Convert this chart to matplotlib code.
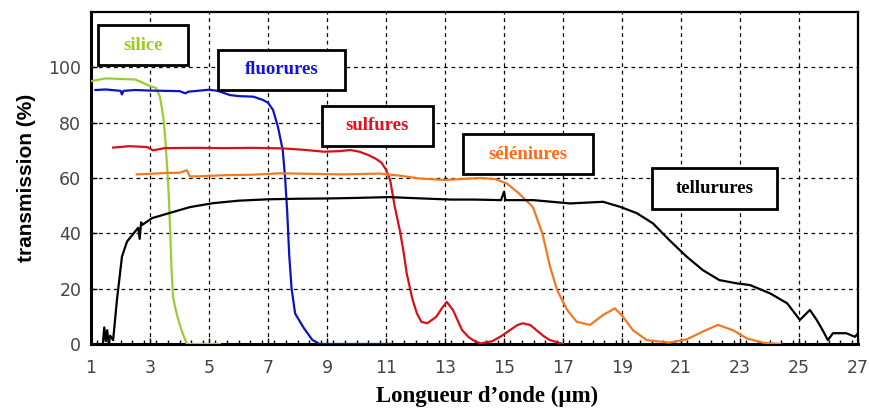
import matplotlib
matplotlib.use("Agg")
import matplotlib.pyplot as plt
from matplotlib.patches import Rectangle
from matplotlib.ticker import MultipleLocator

# ---- data ----
silice_x = [1.0, 1.5, 2.0, 2.5, 2.8, 3.0, 3.2, 3.34, 3.45, 3.52, 3.58, 3.63, 3.68, 3.73, 3.78, 3.88, 3.98, 4.1, 4.25, 5.37]
silice_y = [95.0, 96.0, 95.8, 95.6, 94.2, 93.2, 92.6, 89.3, 82, 74, 64, 55, 42, 27, 17, 12, 8, 4, 0, 0]

fluo_x = [1.15, 1.5, 2.0, 2.05, 2.1, 2.5, 3.0, 3.5, 4.0, 4.2, 4.3, 4.5, 5.0, 5.3, 5.7, 6.0, 6.5, 6.83, 7.0, 7.17, 7.34, 7.5, 7.58, 7.65, 7.72, 7.8, 7.92, 8.2, 8.5, 8.75, 9.0, 10.0, 11.2]
fluo_y = [91.8, 92.0, 91.5, 90.2, 91.5, 91.8, 91.6, 91.5, 91.4, 90.6, 91.2, 91.4, 91.9, 91.5, 90.0, 89.6, 89.4, 88.2, 87.2, 84.6, 78.4, 70, 60, 48, 32, 20, 11, 6, 1.5, 0, 0, 0, 0]

sulf_x = [1.75, 2.3, 2.9, 3.1, 3.25, 3.5, 4.5, 5.5, 6.5, 7.5, 8.2, 8.9, 9.4, 9.8, 10.1, 10.4, 10.65, 10.85, 11.0, 11.14, 11.3, 11.47, 11.6, 11.7, 11.9, 12.05, 12.2, 12.4, 12.7, 12.9, 13.06, 13.27, 13.45, 13.58, 13.8, 13.95, 14.2, 14.6, 14.9, 15.2, 15.45, 15.64, 15.9, 16.1, 16.35, 16.56, 17.0]
sulf_y = [71.0, 71.5, 71.2, 70.0, 70.3, 70.8, 70.9, 70.8, 70.9, 70.7, 70.2, 69.5, 69.7, 70.1, 69.5, 68.3, 67.0, 65.5, 63.0, 59.3, 49.5, 41.0, 33.0, 25.6, 16.0, 11.0, 8.0, 7.5, 9.8, 13.0, 15.2, 12.3, 8.0, 5.0, 2.5, 1.4, 0.2, 1.0, 2.8, 5.0, 6.8, 7.5, 6.8, 5.0, 2.8, 1.4, 0.0]

sel_x = [2.55, 3.0, 3.5, 4.0, 4.25, 4.35, 4.6, 5.5, 6.5, 7.4, 8.5, 9.5, 10.8, 11.5, 12.15, 13.0, 13.5, 14.2, 14.7, 15.1, 15.5, 15.98, 16.3, 16.56, 16.8, 17.14, 17.47, 17.92, 18.36, 18.76, 19.03, 19.37, 19.84, 20.6, 21.2, 21.74, 22.25, 22.76, 23.24, 23.78, 24.36]
sel_y = [61.3, 61.5, 61.8, 61.9, 62.8, 60.6, 60.6, 61.0, 61.2, 61.7, 61.5, 61.3, 61.6, 60.8, 59.8, 59.3, 59.6, 60.0, 59.6, 58.0, 54.5, 49.5, 40.0, 28.0, 19.5, 12.3, 8.0, 6.9, 10.5, 12.9, 9.9, 5.0, 1.4, 0.5, 1.7, 4.5, 6.9, 5.0, 2.0, 0.5, 0.0]

tell_x = [1.4, 1.45, 1.5, 1.55, 1.6, 1.65, 1.75, 1.88, 2.05, 2.22, 2.49, 2.6, 2.65, 2.7, 2.73, 3.07, 3.68, 4.36, 5.14, 6.0, 7.0, 8.0, 9.0, 10.0, 11.1, 12.0, 13.2, 14.0, 14.9, 15.0, 15.05, 16.0, 17.24, 18.36, 18.93, 19.5, 20.05, 20.6, 21.2, 21.74, 22.3, 22.9, 23.34, 24.02, 24.6, 25.03, 25.2, 25.37, 25.6, 25.8, 25.98, 26.15, 26.6, 26.9, 27.0]
tell_y = [0, 6, 1, 5, 0, 3, 1.4, 16, 31.6, 37, 40.6, 42, 38, 44, 43, 45.5, 47.4, 49.5, 50.9, 51.8, 52.3, 52.5, 52.6, 52.8, 53.1, 52.7, 52.2, 52.2, 52.0, 55.0, 52.0, 52.0, 50.8, 51.4, 49.6, 47.3, 43.6, 37.6, 31.5, 26.7, 23.1, 21.9, 21.3, 18.3, 14.7, 8.7, 10.5, 12.3, 8.7, 5.0, 1.4, 3.9, 3.9, 2.6, 3.9]

x_ticks = list(range(1, 28, 2))
y_ticks = [0, 20, 40, 60, 80, 100]

labels = ["silice", "fluorures", "sulfures", "séléniures", "tellurures"]
# label boxes: (x0, x1, y0, y1) in data units
boxes = [(1.24, 4.29, 100.8, 115.3),
         (5.31, 9.61, 91.8, 106.3),
         (8.83, 12.59, 71.6, 86.0),
         (13.61, 18.02, 61.4, 75.9),
         (20.02, 24.25, 48.8, 63.6)]
text_colors = ["#99cc1a", "#1010ee", "#e8101a", "#ff6a1a", "#000000"]
line_colors = ["#9acc33", "#0a14c0", "#d81018", "#f07a22", "#000000"]

# ---- figure ----
fig = plt.figure(figsize=(8.69, 4.09), dpi=100)
ax = fig.add_axes([91/869, 65/409, (858-91)/869, (344-12)/409])

series = [(silice_x, silice_y), (fluo_x, fluo_y), (sulf_x, sulf_y), (sel_x, sel_y), (tell_x, tell_y)]
for (xs, ys), c in zip(series, line_colors):
    ax.plot(xs, ys, color=c, lw=1.6, zorder=3)

ax.set_xlim(1, 27)
ax.set_ylim(0, 120)
ax.set_xticks(x_ticks)
ax.set_yticks(y_ticks)
ax.xaxis.set_minor_locator(MultipleLocator(0.4))
ax.grid(True, which="major", color="black", linestyle=(0, (3, 3)), linewidth=0.9, zorder=1)
ax.tick_params(axis="both", which="major", direction="in", length=4, width=1,
               labelsize=12.5, labelcolor="#444444")
ax.tick_params(axis="x", which="minor", direction="in", length=3, width=1)
ax.tick_params(axis="x", which="major", pad=11)
ax.tick_params(axis="y", which="major", pad=7)
for lab in ax.get_xticklabels() + ax.get_yticklabels():
    lab.set_family("DejaVu Sans")

for s in ["left", "bottom"]:
    ax.spines[s].set_linewidth(2.2)
for s in ["top", "right"]:
    ax.spines[s].set_linewidth(1.6)

for (x0, x1, y0, y1), txt, tc in zip(boxes, labels, text_colors):
    ax.add_patch(Rectangle((x0, y0), x1 - x0, y1 - y0, facecolor="white",
                           edgecolor="black", lw=2, zorder=4))
    ax.text((x0 + x1) / 2, (y0 + y1) / 2, txt, color=tc, ha="center", va="center",
            family="Liberation Serif", fontweight="bold", fontsize=13.5, zorder=5)

ax.set_ylabel("transmission (%)", family="Liberation Sans", fontweight="bold",
              fontsize=15)
ax.yaxis.set_label_coords(-0.072, 0.5)
ax.set_xlabel("Longueur d\u2019onde (\u00b5m)", family="Liberation Serif",
              fontweight="bold", fontsize=16.5)
ax.xaxis.set_label_coords(0.516, -0.125)

fig.savefig("out.png", dpi=100)
